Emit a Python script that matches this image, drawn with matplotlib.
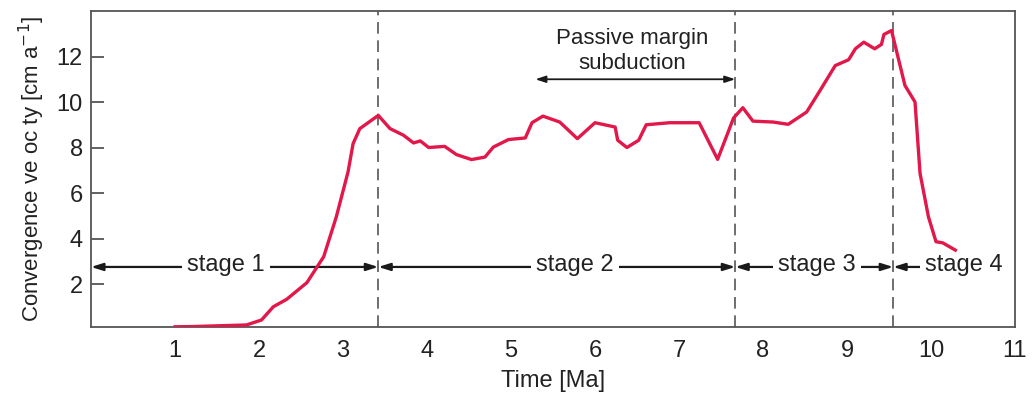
import numpy as np
import matplotlib.pyplot as plt

plt.rcParams['font.family'] = ['Liberation Sans', 'DejaVu Sans']

# convergence velocity through time
time_ma = [1.0, 1.21, 1.85, 2.03, 2.17, 2.33, 2.57, 2.77, 2.92, 3.06, 3.12, 3.2,
           3.42, 3.56, 3.72, 3.84, 3.92, 4.02, 4.21, 4.35, 4.53, 4.69, 4.79,
           4.97, 5.17, 5.25, 5.38, 5.58, 5.79, 6.0, 6.24, 6.27, 6.38, 6.52,
           6.61, 6.89, 7.24, 7.46, 7.65, 7.76, 7.88, 8.12, 8.3, 8.52, 8.68,
           8.86, 9.02, 9.1, 9.2, 9.33, 9.41, 9.44, 9.53, 9.69, 9.81, 9.87,
           9.97, 10.06, 10.14, 10.29]
velocity = [0.12, 0.13, 0.2, 0.42, 1.0, 1.33, 2.06, 3.2, 4.95, 6.93, 8.17, 8.83,
            9.41, 8.83, 8.54, 8.2, 8.29, 8.0, 8.05, 7.69, 7.47, 7.58, 8.02,
            8.35, 8.42, 9.09, 9.38, 9.12, 8.39, 9.09, 8.9, 8.32, 8.0, 8.32,
            9.0, 9.09, 9.09, 7.48, 9.3, 9.75, 9.16, 9.12, 9.02, 9.56, 10.51,
            11.6, 11.86, 12.34, 12.63, 12.34, 12.53, 12.97, 13.14, 10.73, 10.0, 6.86,
            4.95, 3.86, 3.81, 3.49]

stage_bounds = [0.0, 3.42, 7.67, 9.55, 11.0]
stage_names = ['stage 1', 'stage 2', 'stage 3', 'stage 4']
stage_label_x = [1.61, 5.76, 8.64, 10.39]
stage_y = 2.75

passive_span = [5.29, 7.67]
passive_y = 11.0

fs = 17
txt_col = '#222222'

fig = plt.figure(figsize=(10.32, 3.96), dpi=100)
ax = fig.add_axes([0.0882, 0.1742, 0.8953, 0.798])

spine_col = '#555555'
for b in stage_bounds[1:-1]:
    ax.axvline(b, color=spine_col, lw=1.2, ls=(0, (7, 4)), zorder=1)

ax.plot(time_ma, velocity, color='#e2174a', lw=2.4, zorder=6, solid_joinstyle='round')

for i, name in enumerate(stage_names):
    x0, x1 = stage_bounds[i], stage_bounds[i + 1]
    if i == len(stage_names) - 1:
        # last stage: only a left head, line stops under the label
        style, x1 = '<|-', stage_label_x[i]
    else:
        style = '<|-|>'
    ax.annotate('', xy=(x1, stage_y), xytext=(x0, stage_y),
                arrowprops=dict(arrowstyle=style + ',head_width=0.22,head_length=0.7',
                                color='#1a1a1a', lw=1.6, shrinkA=0, shrinkB=0),
                zorder=4)
    ax.text(stage_label_x[i], stage_y + 0.1, name, ha='center', va='center',
            fontsize=fs, color=txt_col, zorder=5,
            bbox=dict(facecolor='white', edgecolor='none', pad=3.5))

ax.annotate('', xy=(passive_span[0], passive_y), xytext=(passive_span[1], passive_y),
            arrowprops=dict(arrowstyle='<|-|>,head_width=0.2,head_length=0.6',
                            color='#1a1a1a', lw=1.3, shrinkA=0, shrinkB=0))
ax.text(6.44, 12.26, 'Passive margin\nsubduction', ha='center', va='center',
        fontsize=16, color=txt_col, linespacing=1.25)

ax.set_xlim(0, 11)
ax.set_ylim(0.11, 14)
ax.set_xticks(range(1, 12))
ax.set_yticks([2, 4, 6, 8, 10, 12])
ax.tick_params(axis='x', length=0, labelsize=fs, pad=9, colors=txt_col)
ax.tick_params(axis='y', direction='in', length=9, width=1.3, color=spine_col,
               labelsize=fs, pad=6, labelcolor=txt_col)
for s in ax.spines.values():
    s.set_color(spine_col)
    s.set_linewidth(1.3)

ax.set_xlabel('Time [Ma]', fontsize=fs, color=txt_col, labelpad=6)
ax.set_ylabel('Convergence ve oc ty [cm a$^{-1}$]', fontsize=16,
              color=txt_col, labelpad=7)

fig.savefig('out.png', dpi=100)
